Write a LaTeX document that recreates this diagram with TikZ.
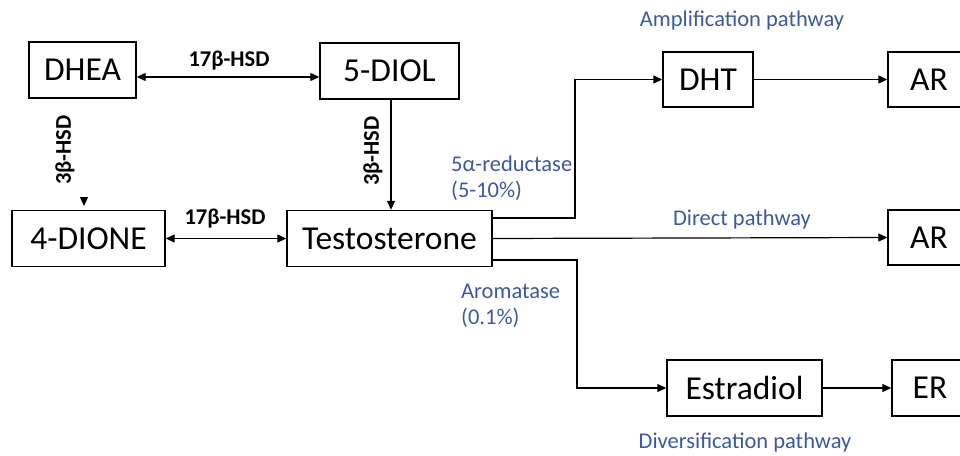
\documentclass[tikz,border=0pt]{standalone}
\usepackage{fontspec}
\setmainfont{Carlito}
\usetikzlibrary{arrows.meta,calc}
\definecolor{pathblue}{RGB}{59,89,160}
\tikzset{
  box/.style={draw=black,line width=1.4pt,inner sep=0pt,font=\fontsize{33.5}{36}\selectfont,text=black},
  conn/.style={line width=1.2pt,-{Triangle[length=9pt,width=8pt]}},
  biconn/.style={line width=1.2pt,{Triangle[length=9pt,width=8pt]}-{Triangle[length=9pt,width=8pt]}},
  enz/.style={font=\bfseries\fontsize{22.5}{24}\selectfont,inner sep=0pt},
  blue/.style={text=pathblue,font=\fontsize{22.5}{24}\selectfont,inner sep=0pt},
}
\begin{document}
\begin{tikzpicture}[x=1pt,y=-1pt]
\useasboundingbox (0,0) rectangle (960,455);
\clip (0,0) rectangle (960,455);
% boxes
\node[box,minimum width=107,minimum height=56] (dhea) at (82.5,70) {DHEA};
\node[box,minimum width=139,minimum height=56] (diol) at (389.5,71) {5-DIOL};
\node[box,minimum width=153,minimum height=56] (dione) at (88.5,238.5) {4-DIONE};
\node[box,minimum width=205,minimum height=56] (testo) at (389.5,238.5) {Testosterone};
\node[box,minimum width=90,minimum height=55] (dht) at (708,79.5) {DHT};
\node[box,minimum width=82,minimum height=55] (ar1) at (929,79.5) {AR};
\node[box,minimum width=82,minimum height=55] (ar2) at (929,237.5) {AR};
\node[box,minimum width=155,minimum height=56] (estr) at (744.5,388) {Estradiol};
\node[box,minimum width=76,minimum height=56] (er) at (930,388) {ER};
% left column / top row connectors
\draw[biconn] ([yshift=-7pt]dhea.east) -- ([yshift=-6pt]diol.west);
\node[enz] (l1) at (229,61) {17β-HSD};
\coordinate (hd) at (84,197.5);
\coordinate (hdend) at (84,206);
\draw[conn] (hd) -- (hdend);
\node[enz,rotate=90] (l2) at (65,150) {3β-HSD};
\draw[conn] ([xshift=1.5pt]diol.south) -- ([xshift=1.5pt]testo.north);
\node[enz,rotate=90] (l3) at (373,151) {3β-HSD};
\draw[biconn] (dione.east) -- (testo.west);
\node[enz] (l4) at (225,219) {17β-HSD};
% right side
\draw[conn] ([yshift=20.5pt]testo.east) -| (575,79.5) -- (dht.west);
\draw[conn] (dht.east) -- (ar1.west);
\draw[conn] (testo.east) -- (ar2.west);
\draw[conn] ([yshift=-21.5pt]testo.east) -| (577,388) -- (estr.west);
\draw[conn] (estr.east) -- (er.west);
% blue labels
\node[blue] (amp) at (742,21) {Amplification pathway};
\node[blue,anchor=west] (red) at (451,164) {5α-reductase};
\node[blue,anchor=west] (redp) at (451,191) {(5-10\%)};
\node[blue] (dir) at (742,219) {Direct pathway};
\node[blue,anchor=west] (aro) at (461,291) {Aromatase};
\node[blue,anchor=west] (arop) at (461,318) {(0.1\%)};
\node[blue] (div) at (745,442) {Diversification pathway};
\end{tikzpicture}
\end{document}
